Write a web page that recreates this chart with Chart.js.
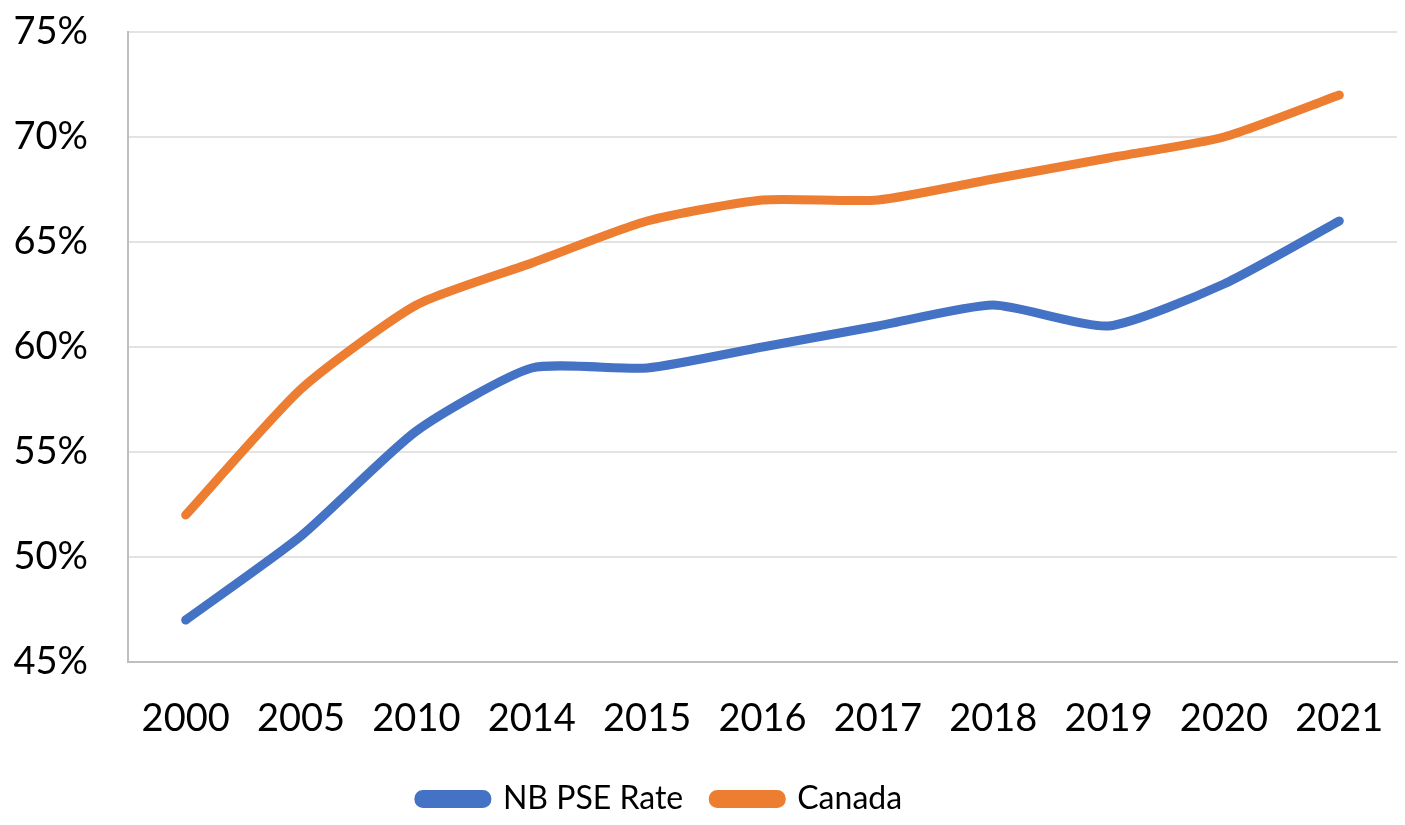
<!DOCTYPE html>
<html lang="en">
<head>
    <meta charset="UTF-8">
    <title>NB PSE Rate vs Canada</title>
    <script src="https://cdn.jsdelivr.net/npm/chart.js"></script>
    <style>
        body { margin: 0; background: #fff; }
        .wrap { width: 1405px; height: 825px; position: relative; }
    </style>
</head>
<body>
    <div class="wrap">
        <canvas id="pseChart"></canvas>
    </div>

    <script>
        // data
        const years = ['2000', '2005', '2010', '2014', '2015', '2016', '2017', '2018', '2019', '2020', '2021'];
        const nbRate = [47, 51, 56, 59, 59, 60, 61, 62, 61, 63, 66];
        const canadaRate = [52, 58, 62, 64, 66, 67, 67, 68, 69, 70, 72];
        const yTicks = [45, 50, 55, 60, 65, 70, 75];

        const fontFamily = "Lato, 'Open Sans', sans-serif";

        // the legend in the original sits a little left of centre
        const legendShift = {
            id: 'legendShift',
            afterLayout(chart) {
                const lg = chart.legend;
                if (lg) { lg.left -= 38; lg.right -= 38; }
            }
        };

        const ctx = document.getElementById('pseChart').getContext('2d');

        new Chart(ctx, {
            type: 'line',
            data: {
                labels: years,
                datasets: [
                    {
                        label: 'NB PSE Rate',
                        data: nbRate,
                        borderColor: '#4472C4',
                        backgroundColor: '#4472C4',
                        borderWidth: 9,
                        borderCapStyle: 'round',
                        pointRadius: 0,
                        tension: 0.2
                    },
                    {
                        label: 'Canada',
                        data: canadaRate,
                        borderColor: '#ED7D31',
                        backgroundColor: '#ED7D31',
                        borderWidth: 9,
                        borderCapStyle: 'round',
                        pointRadius: 0,
                        tension: 0.2
                    }
                ]
            },
            plugins: [legendShift],
            options: {
                responsive: true,
                maintainAspectRatio: false,
                animation: false,
                layout: { padding: { top: 32, right: 8, left: 0, bottom: 0 } },
                scales: {
                    x: {
                        offset: true,
                        grid: { display: false, drawTicks: false },
                        border: { color: '#bfbfbf', width: 2 },
                        ticks: {
                            color: '#000',
                            font: { family: fontFamily, size: 38 },
                            padding: 34,
                            maxRotation: 0
                        },
                        afterFit: (axis) => {
                            axis.height = 91;
                            axis.paddingLeft = 0;
                            axis.paddingRight = 0;
                        }
                    },
                    y: {
                        min: 45,
                        max: 75,
                        afterBuildTicks: (axis) => {
                            axis.ticks = yTicks.map(v => ({ value: v }));
                        },
                        grid: { color: '#e3e3e3', lineWidth: 2, drawTicks: false },
                        border: { color: '#bfbfbf', width: 2 },
                        ticks: {
                            color: '#000',
                            font: { family: fontFamily, size: 38 },
                            padding: 40,
                            callback: (v) => v + '%'
                        },
                        afterFit: (axis) => {
                            axis.width = 128;
                            axis.paddingTop = 0;
                            axis.paddingBottom = 0;
                        }
                    }
                },
                plugins: {
                    tooltip: { enabled: false },
                    legend: {
                        position: 'bottom',
                        labels: {
                            color: '#000',
                            font: { family: fontFamily, size: 32 },
                            boxWidth: 68,
                            boxHeight: 9,
                            useBorderRadius: true,
                            borderRadius: 4,
                            padding: 30
                        }
                    }
                }
            }
        });
    </script>
</body>
</html>
